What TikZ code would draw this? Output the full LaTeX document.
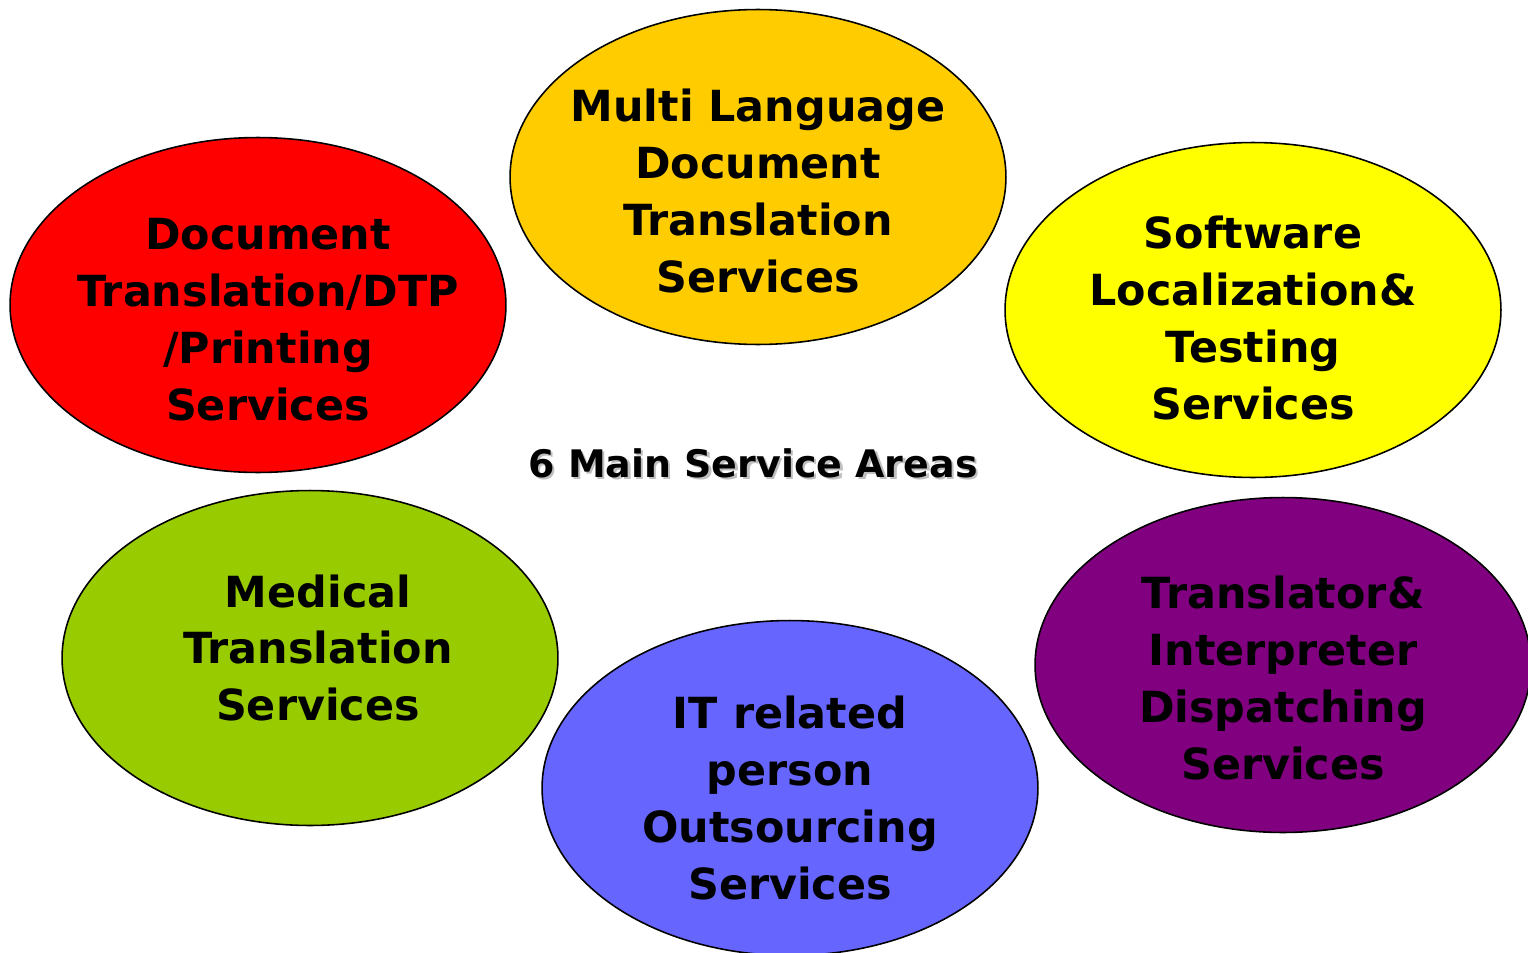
\documentclass[tikz,border=0pt]{standalone}
\usepackage{fontspec}
\setmainfont{DejaVu Sans}
\usetikzlibrary{shapes.geometric}
\definecolor{amber}{HTML}{FFCC00}
\definecolor{lemon}{HTML}{FFFF00}
\definecolor{leaf}{HTML}{99CC00}
\definecolor{periwinkle}{HTML}{6666FF}
\definecolor{plum}{HTML}{800080}
\tikzset{every area/.style={ % Sets the properties for each service ellipse
            ellipse, draw=black, line width=0.9pt,
            minimum width=9.92cm, minimum height=6.7cm,
            inner sep=0pt},
        svctext/.style={ % Text inside the ellipses
            align=center, inner sep=0pt,
            font=\bfseries\fontsize{24.4}{32.4}\selectfont},
        headline/.style={font=\bfseries\fontsize{21.6}{26}\selectfont}
        }

\begin{document}
\begin{tikzpicture}[x=0.02cm,y=-0.02cm]
    \useasboundingbox (0,0) rectangle (1528,953);
    \node[every area, fill=amber,
          label={[svctext, yshift=-0.28cm]center:{Multi Language\\Document\\Translation\\Services}}]
          (mld) at (758,177) {};
    \node[every area, fill=red,
          label={[svctext, xshift=0.2cm, yshift=-0.3cm]center:{Document\\Translation/DTP\\/Printing\\Services}}]
          (dtp) at (258,305) {};
    \node[every area, fill=lemon,
          label={[svctext, yshift=-0.16cm]center:{Software\\Localization\&\\Testing\\Services}}]
          (slt) at (1253,310) {};
    \node[every area, fill=leaf,
          label={[svctext, xshift=0.16cm, yshift=0.2cm]center:{Medical\\Translation\\Services}}]
          (med) at (310,658) {};
    \node[every area, fill=periwinkle,
          label={[svctext, yshift=-0.2cm]center:{IT related\\person\\Outsourcing\\Services}}]
          (itp) at (790,788) {};
    \node[every area, fill=plum,
          label={[svctext, yshift=-0.26cm]center:{Translator\&\\Interpreter\\Dispatching\\Services}}]
          (tid) at (1283,665) {};

    % title with its shadow
    \node[headline, text=black!25] (shadow) at (755.5,465.5) {6 Main Service Areas};
    \node[headline]                (title)  at (753,463) {6 Main Service Areas};
\end{tikzpicture}
\end{document}
